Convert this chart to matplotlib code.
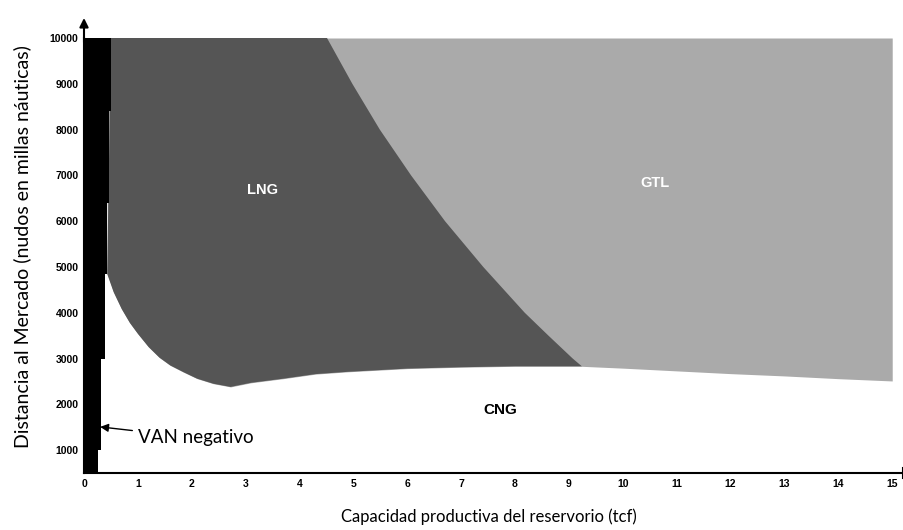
import matplotlib
matplotlib.use("Agg")
import matplotlib.pyplot as plt
import numpy as np

# ---- data ----
x_ticks = list(range(0, 16))
y_ticks = [1000, 2000, 3000, 4000, 5000, 6000, 7000, 8000, 9000, 10000]

# "VAN negativo" strip: y breakpoints and strip width (tcf) on each step
van_y = [500, 1000, 3000, 4850, 6400, 8400, 10000]
van_x = [0.26, 0.32, 0.39, 0.43, 0.46, 0.50, 0.50]

# Upper boundary of the CNG region (distance vs capacity)
cng_x = [0.43, 0.55, 0.70, 0.85, 1.00, 1.20, 1.40, 1.60, 1.85, 2.10, 2.40, 2.72,
         3.10, 3.70, 4.30, 4.90, 6.00, 7.00, 8.00, 9.24, 10.0, 11.0, 12.0, 13.0, 14.0, 15.0]
cng_y = [4850, 4450, 4080, 3780, 3540, 3250, 3020, 2850, 2700, 2560, 2450, 2380,
         2470, 2560, 2660, 2710, 2780, 2810, 2830, 2830, 2790, 2730, 2670, 2620, 2560, 2510]

# LNG / GTL boundary
lng_gtl_y = [10000, 9000, 8000, 7000, 6000, 5000, 4000, 3500, 3000, 2830]
lng_gtl_x = [4.51, 4.98, 5.49, 6.07, 6.70, 7.41, 8.18, 8.62, 9.07, 9.24]

y_max = 10000

C_VAN = "#000000"
C_LNG = "#555555"
C_GTL = "#aaaaaa"

fig = plt.figure(figsize=(9.04, 5.30), dpi=100)
W, H = 904, 530
ax = fig.add_axes([84 / W, (H - 473) / H, (903 - 84) / W, (473 - 38) / H])
ax.set_xlim(0, 15.2)
ax.set_ylim(500, 10000)

# GTL: everything above the CNG boundary
ax.fill_between(cng_x, cng_y, y_max, color=C_GTL, lw=0)

# LNG polygon: CNG boundary up to the junction, then LNG/GTL boundary up to the top
k = cng_x.index(lng_gtl_x[-1])
poly_x = cng_x[:k + 1] + lng_gtl_x[::-1] + [van_x[-1], van_x[3]]
poly_y = cng_y[:k + 1] + lng_gtl_y[::-1] + [y_max, cng_y[0]]
ax.fill(poly_x, poly_y, color=C_LNG, lw=0)

# VAN negativo strip
ax.fill_betweenx(van_y, 0, van_x, step="post", color=C_VAN, lw=0)

# region labels
ax.text(3.32, 6680, "LNG", color="white", fontsize=10.5, fontweight="bold",
        family="Liberation Sans", ha="center", va="center")
ax.text(10.6, 6830, "GTL", color="white", fontsize=10.5, fontweight="bold",
        family="Liberation Sans", ha="center", va="center")
ax.text(7.72, 1880, "CNG", color="black", fontsize=11, fontweight="bold",
        family="Liberation Sans", ha="center", va="center")

ax.annotate("VAN negativo", xy=(0.30, 1507), xytext=(1.0, 1270),
            fontsize=13.5, family="Lato", ha="left", va="center",
            arrowprops=dict(arrowstyle="-|>", color="black", lw=1,
                            mutation_scale=12, shrinkA=2, shrinkB=0))

# axes styling
for s in ["top", "right"]:
    ax.spines[s].set_visible(False)
for s in ["left", "bottom"]:
    ax.spines[s].set_linewidth(1.5)
    ax.spines[s].set_color("black")

ax.set_xticks(x_ticks)
ax.set_yticks(y_ticks)
ax.tick_params(axis="both", length=0, labelsize=7.5, pad=4)
for lab in ax.get_xticklabels() + ax.get_yticklabels():
    lab.set_fontweight("bold")
    lab.set_family("Liberation Sans")

# y-axis arrow and x-axis end mark
ax.annotate("", xy=(0, 1.046), xytext=(0, 0.99), xycoords="axes fraction",
            arrowprops=dict(arrowstyle="-|>", color="black", lw=1.5,
                            mutation_scale=13, shrinkA=0, shrinkB=0))
ax.plot([1, 1], [-0.012, 0.012], transform=ax.transAxes, color="black",
        lw=1.5, clip_on=False)

ax.set_xlabel("Capacidad productiva del reservorio (tcf)", fontsize=12,
              family="Lato", va="center")
ax.xaxis.set_label_coords(0.4945, -0.101)
ax.set_ylabel("Distancia al Mercado (nudos en millas náuticas)", fontsize=14,
              family="Lato", va="center")
ax.yaxis.set_label_coords(-0.0757, 0.52)

fig.savefig("out.png", dpi=100)
